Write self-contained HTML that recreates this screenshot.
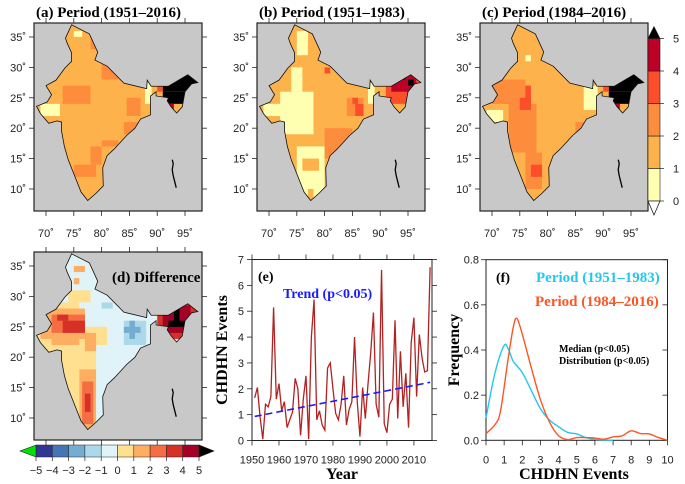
<!DOCTYPE html>
<html><head><meta charset="utf-8">
<style>
html,body{margin:0;padding:0;background:#fff;}
svg{display:block;}
.t{font-family:"Liberation Serif",serif;font-weight:bold;}
.s{font-family:"Liberation Sans",sans-serif;font-size:11px;fill:#222;}
</style></head>
<body>
<svg id="fig" width="685" height="484" viewBox="0 0 685 484" xmlns="http://www.w3.org/2000/svg">
</svg>
<script>
// ---- Panel (e) data ----
const years = [];
for (let y = 1951; y <= 2016; y++) years.push(y);
const events = [1.65,2.05,0.9,0.05,1.4,1.3,1.7,5.15,1.6,2.2,1.15,1.5,0.5,0.8,1.1,2.4,2.0,0.2,1.6,2.5,0.05,4.0,5.45,0.8,1.15,0.6,0.4,2.8,3.0,2.0,1.05,0.8,1.4,2.5,0.6,1.2,1.5,4.0,1.5,0.15,2.05,0.85,2.2,3.4,4.95,1.4,0.9,6.6,0.65,0.3,1.4,1.6,4.65,0.85,3.45,1.3,2.6,0.5,3.8,4.75,1.7,4.1,3.2,2.65,2.7,6.7];
const trendStart = [1951, 0.93];
const trendEnd = [2016, 2.25];
const eYTicks = [0,1,2,3,4,5,6,7];
const eXTicks = [1950,1960,1970,1980,1990,2000,2010];
// ---- Panel (f) data ----
const fX1 = [0,0.5,1,1.25,1.5,2,2.5,3,3.5,4,4.5,5,5.5,6,6.5,7];
const fY1 = [0.10,0.30,0.42,0.40,0.35,0.30,0.22,0.14,0.09,0.06,0.035,0.028,0.012,0.004,0.002,0];
const fX2 = [0,0.5,0.8,1.2,1.5,1.7,2,2.5,3,3.5,4,4.5,5,5.5,6,6.5,7,7.5,8,8.5,9,9.5,10];
const fY2 = [0.03,0.07,0.13,0.35,0.50,0.54,0.47,0.32,0.18,0.08,0.02,0.003,0.012,0.012,0.01,0.005,0.015,0.02,0.042,0.03,0.028,0.012,0];
const fYTicks = [0,0.2,0.4,0.6,0.8];
const fXTicks = [0,1,2,3,4,5,6,7,8,9,10];

const NS = 'http://www.w3.org/2000/svg';
const svg = document.getElementById('fig');
function mk(tag, attrs, parent, text){
  const e = document.createElementNS(NS, tag);
  for (const k in attrs) e.setAttribute(k, attrs[k]);
  if (text !== undefined) e.textContent = text;
  (parent || svg).appendChild(e);
  return e;
}

const india = [[73.5,34.8],[74.6,37.0],[77.8,35.5],[79.3,32.5],[78.8,31.2],[81,30.2],[84,27.4],[88.1,26.5],[88.2,27.9],[88.9,26.9],[92,26.9],[95.5,28.8],[97.3,27.5],[96.2,27.3],[95,26],[94.5,23.5],[93.5,22.5],[92.5,23.5],[91.8,24.5],[92,25],[89.8,25.3],[89.8,26],[88.8,25.3],[88.8,22.2],[87,21.5],[86,20],[84.5,18.8],[82.3,16.6],[81,15.5],[80.2,13.5],[80.3,10.5],[79,9.3],[77.5,8.1],[76.3,9.5],[75,12.5],[74,14.8],[73.3,17],[72.8,19.5],[72.8,21],[72,21.2],[70.5,20.8],[69,22.4],[68.3,23.6],[70.2,24.3],[71,25.5],[70,27],[71.8,27.9],[73.4,29.9],[74.6,31],[74.6,32.4],[73.8,34]];

const LON0=67.84, LAT0=37.3, PXLON=5.56, PXLAT=6.08, MW=168, MH=188;
function proj(fx,fy,lon,lat){ return [fx+(lon-LON0)*PXLON, fy+(LAT0-lat)*PXLAT]; }

function drawMap(id, fx, fy, base, patches, title, titleInside){
  const g = mk('g', {}, svg);
  
  
  mk('rect',{x:fx,y:fy,width:MW,height:MH,fill:'#c8c8c8'},g);
  const cp = mk('clipPath',{id:'clip-'+id},g);
  const pts = india.map(p=>proj(fx,fy,p[0],p[1]).join(',')).join(' ');
  mk('polygon',{points:pts},cp);
  const fill = mk('g',{'clip-path':'url(#clip-'+id+')'},g);
  mk('rect',{x:fx,y:fy,width:MW,height:MH,fill:base},fill);
  patches.forEach(p=>{
    const a = proj(fx,fy,p[0],p[3]), b = proj(fx,fy,p[2],p[1]);
    mk('rect',{x:a[0],y:a[1],width:b[0]-a[0],height:b[1]-a[1],fill:p[4]},fill);
  });
  mk('polygon',{points:pts,fill:'none',stroke:'#111','stroke-width':0.8},g);
  const is1 = proj(fx,fy,92.7,13.5);
  mk('path',{d:`M${is1[0]} ${is1[1]-8} l1 4 l-1 6 l1 6 l2 8 l1 4`,stroke:'#000','stroke-width':1.3,fill:'none'},g);
  mk('rect',{x:fx,y:fy,width:MW,height:MH,fill:'none',stroke:'#222','stroke-width':1.2},g);
  [35,30,25,20,15,10].forEach(l=>{
    const p = proj(fx,fy,LON0,l);
    mk('line',{x1:fx-5,y1:p[1],x2:fx,y2:p[1],stroke:'#222','stroke-width':0.8},g);
    mk('line',{x1:fx+MW,y1:p[1],x2:fx+MW+5,y2:p[1],stroke:'#222','stroke-width':0.8},g);
    const tx = mk('text',{x:fx-8,y:p[1]+4,'text-anchor':'end',class:'s'},g,l+'˚');
    
    
  });
  [70,75,80,85,90,95].forEach(l=>{
    const p = proj(fx,fy,l,LAT0);
    mk('line',{x1:p[0],y1:fy-5,x2:p[0],y2:fy,stroke:'#222','stroke-width':0.8},g);
    mk('line',{x1:p[0],y1:fy+MH,x2:p[0],y2:fy+MH+5,stroke:'#222','stroke-width':0.8},g);
    if (!titleInside){
      const tx = mk('text',{x:p[0],y:fy+MH+26,'text-anchor':'middle',class:'s'},g,l+'˚');
      
      
    }
  });
  const tx = titleInside ? mk('text',{x:fx+78,y:fy+30,class:'t','font-size':15},g,title)
                         : mk('text',{x:fx+2,y:fy-6,class:'t','font-size':15},g,title);
  
  
}

const C0='#ffffb2',C1='#feb24c',C2='#fd8d3c',C3='#fc4e2a',C4='#bd0026',C5='#000';
const NEblack = [[91,26,97.3,29,C5],[91,24,95,26,C5],[91,23,93,24,C4],[90,26,91,27,C3]];
drawMap('a',34,23,C1,[[73,24,78,27,C2],[80,28,83,32,C2],[78,33,81,35,C2],[84.5,22,87,25,C2],[78,14,80,17,C2],[80,17,83,18,C2],[84,19,87,21,C2],[75,12,79,14,C2],[69,22,72.5,24,C0],[75,35,76.5,36,C0],[87.8,24,89,27.5,C0],[86.5,20,87.5,21,C3]].concat(NEblack),'(a) Period (1951–2016)',false);
drawMap('b',257,23,C1,[[72,19,78,26,C0],[74,26,76,30,C0],[69,22,73,24,C0],[75,8,80,17,C0],[75,32,77,36,C0],[76,13,79,15,C1],[77,8,78,10,C1],[77,28,81,35,C1],[84,22,87,25,C2],[80,15,85,20,C2],[85,24,86,25,C3],[85.5,22,87,24,C3],[80,29,81,30,C3],[87.8,24,89,27.5,C0],[91,24,97.3,29,C3],[92,26,96.5,29,C4],[93.5,28,94.5,29,C5],[95,27,96,28,C5]],'(b) Period (1951–1983)',false);
drawMap('c',480,23,C1,[[72,24,77,27,C3],[70,24,76,28,C2],[73,16,78,24,C2],[76,10,79,16,C2],[77,12,79,14,C3],[75,23,77,25,C3],[85,19,88,21,C2],[86.5,23,89,27,C0],[69,21,72,23,C0],[76,31,77,32,C0],[87,20,88,21,C3]].concat(NEblack),'(c) Period (1984–2016)',false);

const D=['#313695','#4575b4','#74add1','#abd9e9','#e0f3f8','#fee090','#fdae61','#f46d43','#d73027','#a50026'];
drawMap('d',34,252,D[4],[
  [68,8,76,29,D[5]],[76,14,79,22,D[5]],[76,22,81,25,D[5]],[74,29,78,31,D[5]],
  [69,23,77,28,D[6]],[71,22,76,24,D[6]],[77,21,79,24,D[6]],
  [71,24,77,27,D[7]],[73,24,77,26,D[8]],[72,26,74,27,D[8]],
  [76,8,79,18,D[6]],[76.5,9,78.5,16,D[7]],[77,11,78,14,D[8]],
  [75,34,77,35,D[6]],[75,32,76,33,D[6]],
  [80,28,82,29,D[3]],[84,22,88,26,D[3]],[85,23,86,26,D[2]],[84,24,87,25,D[2]],
  [90,23,97.3,29,D[8]],[91,24,96,28.5,D[9]],[93,25,94,28,'#000'],[92,25,95,26,'#000']
],'(d) Difference',true);

(function(){
  const g = mk('g',{},svg);
  
  
  const x=648,w=12,top=38.5,bot=201,h=(bot-top)/5;
  const cols=[C0,C1,C2,C3,C4];
  cols.forEach((c,i)=>mk('rect',{x:x,y:bot-(i+1)*h,width:w,height:h,fill:c,stroke:'#222','stroke-width':0.6},g));
  mk('polygon',{points:`${x},${top} ${x+w},${top} ${x+w/2},${top-12}`,fill:'#000',stroke:'#222','stroke-width':0.6},g);
  mk('polygon',{points:`${x},${bot} ${x+w},${bot} ${x+w/2},${bot+14}`,fill:'#fff',stroke:'#222','stroke-width':0.8},g);
  for(let i=0;i<=5;i++){
    mk('line',{x1:x+w,y1:bot-i*h,x2:x+w+4,y2:bot-i*h,stroke:'#222','stroke-width':0.7},g);
    mk('text',{x:676,y:bot-i*h+4,'text-anchor':'middle',class:'s','font-size':12},g,String(i));
  }
})();
(function(){
  const g = mk('g',{},svg);
  
  
  const l=36,r=199,y=445,h=12,w=(r-l)/10;
  D.forEach((c,i)=>mk('rect',{x:l+i*w,y:y,width:w,height:h,fill:c,stroke:'#222','stroke-width':0.5},g));
  mk('polygon',{points:`${l},${y} ${l},${y+h} ${l-16},${y+h/2}`,fill:'#00e000',stroke:'#222','stroke-width':0.6},g);
  mk('polygon',{points:`${r},${y} ${r},${y+h} ${r+15},${y+h/2}`,fill:'#000',stroke:'#222','stroke-width':0.6},g);
  for(let i=0;i<=10;i++){
    mk('line',{x1:l+i*w,y1:y+h,x2:l+i*w,y2:y+h+4,stroke:'#222','stroke-width':0.7},g);
    mk('text',{x:l+i*w,y:474,'text-anchor':'middle',class:'s','font-size':12},g,(i-5<0?'−':'')+Math.abs(i-5));
  }
})();

(function(){
  const L=252,R=432,T=259.5,B=440.5;
  const xs = v=>L+(v-1950)*(R-L)/66.7;
  const ys = v=>B-v*(B-T)/7;
  const g = mk('g',{},svg);
  
  
  mk('rect',{x:L,y:T,width:R-L,height:B-T,fill:'#fff',stroke:'#222','stroke-width':1},g);
  eYTicks.forEach(v=>{
    mk('line',{x1:L-5,y1:ys(v),x2:L,y2:ys(v),stroke:'#222','stroke-width':0.8},g);
    mk('line',{x1:R,y1:ys(v),x2:R+5,y2:ys(v),stroke:'#222','stroke-width':0.8},g);
    mk('text',{x:L-8,y:ys(v)+4,'text-anchor':'end',class:'s','font-size':12},g,String(v));
  });
  eXTicks.forEach(v=>{
    mk('line',{x1:xs(v),y1:B,x2:xs(v),y2:B+5,stroke:'#222','stroke-width':0.8},g);
    mk('line',{x1:xs(v),y1:T-5,x2:xs(v),y2:T,stroke:'#222','stroke-width':0.8},g);
    mk('text',{x:xs(v),y:B+23,'text-anchor':'middle',class:'s','font-size':12},g,String(v));
  });
  const line = mk('polyline',{points:years.map((y,i)=>xs(y)+','+ys(events[i])).join(' '),fill:'none',stroke:'#b22222','stroke-width':1.3},g);
  
  
  const tr = mk('line',{x1:xs(trendStart[0]),y1:ys(trendStart[1]),x2:xs(trendEnd[0]),y2:ys(trendEnd[1]),stroke:'#1a1aff','stroke-width':1.6,'stroke-dasharray':'7,4'},g);
  
  
  mk('text',{x:258,y:281,class:'t','font-size':14},g,'(e)');
  const tt = mk('text',{x:283,y:298,class:'t','font-size':14,fill:'#1a1aff'},g,'Trend (p<0.05)');
  
  
  const xl = mk('text',{x:342,y:479,'text-anchor':'middle',class:'t','font-size':16},g,'Year');
  
  
  const yl = mk('text',{x:0,y:0,transform:'translate(227,350) rotate(-90)','text-anchor':'middle',class:'t','font-size':16},g,'CHDHN Events');
  
  
})();

(function(){
  const L=486,R=667.5,T=259.7,B=440.3;
  const xs = v=>L+v*(R-L)/10;
  const ys = v=>B-v*(B-T)/0.8;
  const g = mk('g',{},svg);
  
  
  mk('rect',{x:L,y:T,width:R-L,height:B-T,fill:'#fff',stroke:'#222','stroke-width':1},g);
  fYTicks.forEach(v=>{
    mk('line',{x1:L-5,y1:ys(v),x2:L,y2:ys(v),stroke:'#222','stroke-width':0.8},g);
    mk('line',{x1:R-5,y1:ys(v),x2:R,y2:ys(v),stroke:'#222','stroke-width':0.8},g);
    mk('text',{x:L-7,y:ys(v)+4,'text-anchor':'end',class:'s','font-size':12},g,v.toFixed(1));
  });
  fXTicks.forEach(v=>{
    mk('line',{x1:xs(v),y1:B,x2:xs(v),y2:B+5,stroke:'#222','stroke-width':0.8},g);
    mk('text',{x:xs(v),y:B+23,'text-anchor':'middle',class:'s','font-size':12},g,String(v));
  });
  function smooth(X,Y){
    const p = X.map((x,i)=>[xs(x),ys(Y[i])]);
    let d='M'+p[0][0]+' '+p[0][1];
    for(let i=0;i<p.length-1;i++){
      const p0=p[i-1]||p[i],p1=p[i],p2=p[i+1],p3=p[i+2]||p2;
      const c1=[p1[0]+(p2[0]-p0[0])/6,p1[1]+(p2[1]-p0[1])/6];
      const c2=[p2[0]-(p3[0]-p1[0])/6,p2[1]-(p3[1]-p1[1])/6];
      d+=` C${c1[0]} ${c1[1]} ${c2[0]} ${c2[1]} ${p2[0]} ${p2[1]}`;
    }
    return d;
  }
  const c1 = mk('path',{d:smooth(fX1,fY1),fill:'none',stroke:'#22c8f0','stroke-width':1.4},g);
  
  
  const c2 = mk('path',{d:smooth(fX2,fY2),fill:'none',stroke:'#ff5522','stroke-width':1.4},g);
  
  
  mk('text',{x:496,y:282,class:'t','font-size':14},g,'(f)');
  const l1 = mk('text',{x:536,y:282,class:'t','font-size':15,fill:'#22c8f0'},g,'Period (1951–1983)');
  
  
  const l2 = mk('text',{x:535,y:306,class:'t','font-size':15,fill:'#ff5522'},g,'Period (1984–2016)');
  
  
  mk('text',{x:559,y:352,class:'t','font-size':10},g,'Median (p<0.05)');
  mk('text',{x:559,y:364,class:'t','font-size':10},g,'Distribution (p<0.05)');
  const xl = mk('text',{x:574,y:479,'text-anchor':'middle',class:'t','font-size':16},g,'CHDHN Events');
  
  
  const yl = mk('text',{x:0,y:0,transform:'translate(459,350) rotate(-90)','text-anchor':'middle',class:'t','font-size':16},g,'Frequency');
  
  
})();
</script>
</body></html>
